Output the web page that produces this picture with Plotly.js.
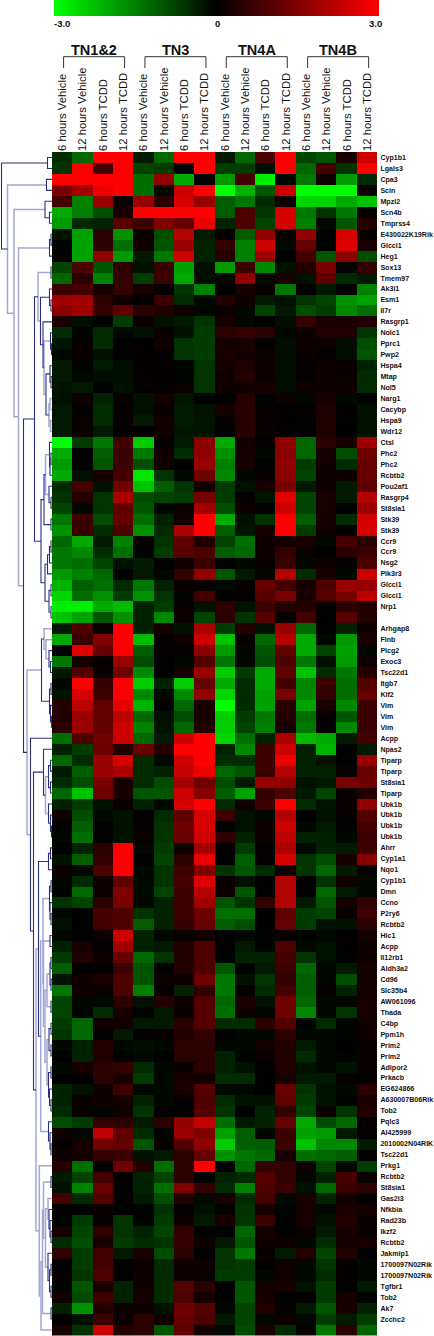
<!DOCTYPE html>
<html>
<head>
<meta charset="utf-8">
<script src="https://cdn.plot.ly/plotly-3.0.1.min.js"></script>
<style>html,body{margin:0;padding:0;background:#fff}</style>
</head>
<body>
<div id="chart" style="width:434px;height:1336px"></div>
<script>
const columnLabels = ["6 hours Vehicle","12 hours Vehicle","6 hours TCDD","12 hours TCDD","6 hours Vehicle","12 hours Vehicle","6 hours TCDD","12 hours TCDD","6 hours Vehicle","12 hours Vehicle","6 hours TCDD","12 hours TCDD","6 hours Vehicle","12 hours Vehicle","6 hours TCDD","12 hours TCDD"];
const groupNames = ["TN1&2","TN3","TN4A","TN4B"];
const groupFirstColumn = [0,4,8,12];
const groupLastColumn = [3,7,11,15];
const colourTicks = ["-3.0","0","3.0"];
const rowLabels = ["Cyp1b1","Lgals3","Cpa3","Scin","Mpzl2","Scn4b","Tmprss4","E430022K19Rik","Glcci1","Heg1","Sox13","Tmem97","Ak3l1","Esm1","Il7r","Rasgrp1","Nolc1","Pprc1","Pwp2","Hspa4","Mtap","Nol5","Narg1","Cacybp","Hspa9","Wdr12","Ctsl","Phc2","Phc2","Rcbtb2","Pou2af1","Rasgrp4","St8sia1","Stk39","Stk39","Ccr9","Ccr9","Nsg2","Pik3r3","Glcci1","Glcci1","Nrp1","","Arhgap8","Flnb","Plcg2","Exoc3","Tsc22d1","Itgb7","Klf2","Vim","Vim","Vim","Acpp","Npas2","Tiparp","Tiparp","St8sia1","Tiparp","Ubk1b","Ubk1b","Ubk1b","Ubk1b","Ahrr","Cyp1a1","Nqo1","Cyp1b1","Dmn","Ccno","P2ry6","Rcbtb2","Hic1","Acpp","Il12rb1","Aldh3a2","Cd96","Slc35b4","AW061096","Thada","C4bp","Ppm1h","Prim2","Prim2","Adipor2","Prkacb","EG624866","A630007B06Rik","Tob2","Pqlc3","AI425999","2010002N04RIK","Tsc22d1","Prkg1","Rcbtb2","St8sia1","Gas2l3","Nfkbia","Rad23b","Ikzf2","Rcbtb2","Jakmip1","1700097N02Rik","1700097N02Rik","Tgfbr1","Tob2","Ak7","Zcchc2",""];
const expression = [
[-0.5,-1.2,3,3,-0.3,-1.2,3,3,-0.3,-1.2,0.9,3,-0.8,-1.0,0.3,2.4],
[-0.6,3,0.8,3,-0.8,-0.7,0,3,-0.7,-0.7,-0.2,3,-1.2,0.8,-0.6,3],
[3,3,3,3,-1.3,1.7,-2.0,0,-1.8,0.8,-2.8,-0.1,-1.4,0.2,-1.8,-0.5],
[1.4,1.9,2.8,3,-1.3,-0.1,2.4,3,-3,-2.1,-1.0,2.4,-3,-3,-3,0.1],
[0.8,-1.5,1.8,0.1,1.8,0.5,2.5,1.8,-1.1,-1.4,-0.5,0.2,-2.5,-2.5,-2.0,-2.3],
[-2.0,-1.5,-0.9,0.3,3,3,3,3,-1.1,0.9,-0.6,2.5,-1.4,-0.6,-1.4,0.1],
[-1.8,-0.5,-0.4,1,0.7,1.5,1.2,2.8,-0.4,0.9,-0.8,2.5,-1.5,-0.1,-1.0,0.4],
[-0.2,-1.9,0.5,-1.7,0.1,-0.9,2.1,-0.3,0.05,-1.1,1.7,0.05,1.7,0,2.5,0.1],
[-0.05,-1.9,0.5,-1.3,0.2,-1.0,1.8,-0.4,0.6,-1.5,2.4,-0.1,1.2,0,2.6,0.3],
[0.05,-1.9,1.7,-1.8,-0.3,-1.4,2.4,-0.4,0.4,-1.5,1.8,0,0.8,-1.0,1.6,-0.9],
[-0.8,0.9,-1.0,0.5,-0.2,0.7,-1.9,-0.2,-1.8,0.7,-1.6,-0.2,0.4,1.4,0,0.6],
[-1.2,0.5,-1.5,0.6,-0.7,0.7,-2.0,-0.15,-0.1,1.7,-0.1,0.3,-0.2,1.1,-0.5,-0.3],
[0.7,0.8,0.3,0.6,0.25,0.05,-0.6,-1.5,0,0.3,0.1,-1.4,0,-0.3,0,-1.5],
[1.9,1.9,0.5,0.15,0.05,0.7,-0.5,-0.1,0.4,0.2,-0.3,-0.2,-0.6,-0.8,-1.7,-1.9],
[1.6,1.9,0.6,1.1,0.5,0.4,0.2,-0.1,0.1,-0.1,-0.8,-0.3,-0.9,-0.7,-1.6,-1.3],
[0.3,-0.15,-0.05,-0.7,0.15,-0.2,-0.3,-0.6,0.3,-0.1,0,-0.15,0.6,0.3,0.3,0.35],
[-0.5,-0.05,-0.5,-0.1,-0.2,0.1,-0.2,-0.7,0.5,0.6,0.5,-0.1,0.15,0.35,0.35,-0.6],
[-0.25,0.1,-0.5,0.05,0,0.2,-0.6,-0.7,0.25,0.3,0.05,-0.15,0.15,0.15,-0.15,-0.9],
[-0.1,0.1,-0.2,0,0.05,0.05,-0.6,-0.7,0.3,0.2,0.1,-0.15,0.1,0,-0.15,-1.0],
[-0.3,-0.05,-0.3,-0.15,0.05,0.05,-0.05,-0.6,0.25,0.35,0.15,-0.15,0.05,0.15,0.1,-0.4],
[-0.3,-0.1,-0.15,-0.15,0.05,0.05,-0.05,-0.6,0.15,0.4,0.15,-0.15,0.05,0.15,0.1,-0.5],
[-0.2,-0.3,-0.05,-0.2,0.05,0.05,0.1,-0.6,0.2,0.2,0.3,-0.15,0.15,0.15,0.2,-0.5],
[-0.2,0.15,-0.4,0.1,-0.2,0.25,-0.25,0.03,0,0.45,-0.05,0.15,-0.1,0.3,-0.1,0],
[-0.3,0.03,-0.5,0.05,-0.2,0.1,-0.3,-0.2,0.25,0.45,0.1,0,0.05,0.35,0.05,-0.2],
[-0.3,0.1,-0.5,0.1,-0.3,0.2,-0.3,-0.25,0.1,0.45,0.1,0,-0.05,0.35,-0.05,-0.2],
[-0.3,0.1,-0.3,0,0,0.2,-0.25,-0.25,0,0.45,0.1,0.05,0,0.35,0,-0.2],
[-3,-0.7,-1.4,0.8,-2.4,0.05,-0.3,1.6,-2.0,0.2,0.05,1.7,-1.2,0.5,0.3,1.9],
[-2,0,-1.1,0.7,-1.4,0.2,-0.5,1.7,-1.7,0.25,-0.1,1.6,-1.2,0.25,-0.9,1.3],
[-1.8,0,-1,0.7,-0.9,0.2,0,1.8,-1.5,0.25,0,1.7,-0.7,0.2,-0.5,1.2],
[-2,-0.2,0.3,0.8,-2.7,-0.6,-0.1,1.3,-1.6,-0.1,0.1,1.6,-0.8,0.15,0.15,1.2],
[-0.5,0.8,-0.2,1.3,-2.3,-1.1,-0.6,0.2,-0.7,-0.2,0.3,1.4,-0.3,0.15,-0.3,1.1],
[-0.6,0.4,-0.6,2,-0.9,-0.8,-0.7,1.4,-0.7,0,-0.25,2.6,-0.8,0.3,-0.3,2.1],
[-0.8,-0.1,-0.6,1.1,-1,-0.1,0.15,1.9,-0.9,0.15,0.05,2.4,-0.8,0.25,0,1.8],
[-1.4,0.7,-0.9,1.2,-1.3,-0.4,0.2,3,-2,-0.2,-0.6,3,-1.1,0.25,-0.5,2.5],
[-1.7,0.7,-0.5,0.9,-1.7,-0.5,2,3,-1.1,-0.25,0.3,3,-0.7,0.2,0,2.5],
[-1.2,-2,-0.3,-1.5,0.1,-0.6,1.1,0.4,-0.8,-1.3,0.2,0.25,0.3,-0.1,0.8,0.5],
[-1.4,-1.6,-0.5,-1.3,-0.05,-0.7,1,0.9,-1.1,-1.2,0.15,0.6,0.1,0,0.5,0.7],
[-1.4,-1.3,-0.8,-0.2,-0.3,0,0.2,0.7,0,-0.1,0.1,0.7,-0.1,0.2,0.05,0.9],
[-1.8,-1.5,-1.2,0,-0.3,-0.1,0.6,1.7,-1,-0.3,-0.1,2.1,-0.5,0.3,-0.1,2.4],
[-2.1,-1.1,-1.3,-0.5,-1.4,-0.4,0.1,0.1,-0.1,0.1,1.2,0.8,0.3,0.9,1.8,1.8],
[-2.5,-1.3,-1.7,-0.7,-1.7,-0.6,-0.05,0.8,0,0.05,1,1.4,0.3,1,1.4,2.2],
[-2.8,-2.8,-2,-2.2,-0.4,-0.7,0.1,-0.2,0.5,-0.2,0.7,0.4,0.4,0.05,0.5,0.4],
[-2.3,-1.9,-1,-1.7,-0.4,-1.6,0.15,-0.8,0.5,-0.6,1,0.1,0.8,0,1,0.4],
[-0.3,0.9,0.05,3,-0.4,0.3,-0.2,2,-0.7,0.4,-0.2,1.8,-1.2,0,-0.4,0.2],
[-2,0.7,1.5,3,-2.2,0.05,0.15,2.4,-2.3,0.1,-1.2,2.1,-2,-0.1,-1.8,0.3],
[0,2.6,1.2,3,-1.1,0,0.05,1.6,-1.8,-0.1,-1,1.1,-2,-0.8,-1.9,-0.1],
[-1.4,0.25,0.1,1.8,-0.9,0,-0.1,1,-1.4,-0.1,-0.9,0.9,-1.4,-0.2,-1.8,0.15],
[-0.3,1,0.1,1.3,-1.6,0,0.3,1.8,-2.4,-0.7,-2,1.1,-2.3,-0.5,-1.4,0.4],
[-0.1,3,0.6,3,-2.4,-0.4,-2.4,1.2,-2,-0.5,-2,0.8,-1.6,0.7,-1.3,1],
[-0.2,2.5,0.7,3,-1.6,-0.1,-1.6,1.7,-2.5,-0.5,-1.9,1.4,-1.6,0.6,-1.3,1.2],
[0.4,2.2,1.1,2.7,-2.1,0,-1.2,0.3,-3,-0.5,-1.9,0.5,-1.9,0.3,-1.6,0.7],
[0.4,1.8,1.1,2.2,-1.2,-0.2,-0.9,0.3,-2.4,-0.7,-1.4,0.4,-1.3,0.05,-1,0.7],
[0.5,1.8,1.1,2.4,-1.5,-0.2,-1.2,0.4,-2.4,-0.8,-1.5,0.3,-1.4,0.05,-1.6,0.7],
[-1.3,0.9,1.3,2.4,-1.2,-0.3,2.4,3,-2.5,-1.3,-0.4,2,-2.2,-2,-0.3,0.8],
[-0.4,-0.7,1.3,0.4,1.2,0.4,3,3,-0.4,-1.6,0.7,2.4,-0.4,-2.1,0,-0.3],
[-1.2,-0.5,1.8,2.5,-0.5,-0.1,2.4,3,-0.5,-0.5,0.7,2.8,-0.4,-0.2,0,1.8],
[-0.3,-1.1,1.8,2,-0.5,-0.4,2.3,2.8,-1.2,-1,0.7,2.1,-0.4,-0.4,0.1,1.2],
[-0.5,-0.9,1.4,0.3,-0.5,-0.9,1.9,1.3,-0.9,-0.3,1.8,1.7,-0.2,-0.3,1.4,1.3],
[-1.2,-2.3,1.3,0.3,-1,-1,2.4,1.6,-1.1,-1.9,0.6,0.9,-0.3,-0.8,0.1,0.4],
[-0.4,-0.7,-0.2,0.1,-0.4,-0.1,2.5,3,-0.5,0.2,0.7,3,-0.5,-0.2,0.1,1.7],
[0.2,-0.9,-0.1,-0.2,0,-0.5,1.1,2.5,0.7,-0.2,-0.1,2.1,0,-0.2,0.05,1],
[0,-1.1,0,-0.2,0.1,-0.6,1.3,2.5,-0.05,-0.2,0.2,2.4,-0.1,-0.3,0,0.8],
[-0.1,-1.3,0,-0.2,0.1,-0.6,1.2,2.4,0.5,-0.4,0.15,2.2,-0.4,-0.4,-0.1,0.7],
[0,-0.4,0.5,3,-0.1,-0.7,0.15,1.9,0,-0.7,0,2,-0.1,-0.4,-0.3,0.7],
[-0.2,-1.1,0.6,3,0,-0.8,0.5,2.7,0,-1.1,0.05,2.5,-0.6,-0.9,0.3,1.6],
[0.15,-0.1,0.9,3,-0.1,-0.6,0.7,1.5,-0.6,-1,-0.5,0.15,-0.6,-1.2,-0.3,-0.05],
[-0.1,-0.5,0.2,1.1,-0.1,-0.6,0.8,2.6,0.1,-0.2,0,2.1,0,-0.6,0.2,-0.1],
[-0.05,-1.2,0.15,1.5,-0.1,-0.8,0.7,2.1,0.2,-1,0,2.1,-0.05,-1.2,-0.3,-0.1],
[-0.6,-0.8,0.5,1.4,-0.1,-0.4,0.7,1.9,-1,-0.6,0.6,2.1,-0.3,-1,0.25,0.6],
[-0.1,0,0.8,0.9,-0.6,-0.4,0.7,1.3,-1.3,-1.3,0,1.1,-0.7,-0.8,0.1,0.7],
[-0.2,0,0.8,0.9,-1.1,-0.4,0.6,1.2,-1.1,-0.9,0,1.2,-0.7,-0.2,-0.2,0.5],
[-0.1,0,0.15,2.4,-0.4,-0.1,0.1,0.2,0,-0.1,-0.05,0.1,-0.05,-0.1,0,0.25],
[-0.4,0.25,0,1.9,-0.4,-0.3,0.35,0.9,0,-0.3,-0.05,0.9,-0.1,-0.2,0,0.15],
[-0.7,0.35,0.15,1.2,-1.2,-0.6,0.4,0.9,-0.05,-0.4,-0.4,0.8,-0.6,-0.2,-0.05,0.15],
[-1.1,0,0,0.7,-1,0,0.4,0.9,-1,-0.05,-0.3,0.7,-1.2,-0.1,-0.3,0.25],
[-0.2,0.2,0.3,0.9,-1,0.15,0.2,1.3,-1.4,-0.2,-0.6,0.6,-1.1,-0.1,-0.9,0.25],
[-1.4,0.2,0.1,0.9,-1.5,0.05,-0.4,0.6,-1.4,0.05,-0.5,0.8,-1.1,0.1,-0.4,0.25],
[-0.8,-0.1,-0.1,0.5,-0.2,0.4,0.2,1,-1.2,0.3,-0.2,1.3,-1.2,-0.1,-0.1,0.3],
[-0.8,-0.05,-0.5,0.3,-0.05,-0.3,0.1,1,-1.3,0.2,-0.05,1.3,-1.6,-0.1,-0.6,0.3],
[-0.7,-1.2,0.2,0.2,-0.3,-0.3,0.5,1,-0.5,-0.5,0.5,1,-0.05,-0.5,-0.05,0.2],
[-0.6,-1.2,0,-0.3,0.03,0.1,0.4,0.6,0,-0.1,-0.1,0.5,-0.1,-0.1,-0.05,0.2],
[-0.1,-0.4,0.4,-0.1,-0.15,-0.1,0.5,0.5,-0.1,-0.1,0.25,0.4,-0.3,-0.1,0,0.1],
[0,-0.4,0.4,0,-0.1,0,0.5,0.5,-0.4,-0.05,0.1,0.4,-0.5,-0.1,-0.05,0.1],
[-0.1,0.3,0.5,0.6,-0.5,-0.1,0.1,0.5,-0.4,-0.2,0,0.4,-0.2,-0.1,-0.2,0.1],
[0,0,0.5,0.3,-0.7,-0.1,0.3,0.2,-0.5,-0.5,0,0.3,-0.3,-0.3,0.1,0.05],
[-0.4,-0.2,0.2,0.7,-0.1,-0.1,0.3,1,-0.1,-0.1,0,1.2,-0.6,-0.2,-0.1,0.5],
[-0.4,0.1,0.2,0.25,-0.4,-0.1,0.05,0.9,-0.5,-0.2,-0.2,1.1,-0.7,-0.2,-0.05,0.3],
[-0.5,0.1,-0.05,0.2,-0.6,0.05,0,1,-0.6,-0.05,-0.4,0.6,-0.8,0.1,-0.6,0.4],
[-0.9,-0.7,0.6,0.5,-0.3,0.5,1.7,2.3,-1.3,-0.3,-0.4,1.2,-2,-0.9,-1.2,0.05],
[0.2,-0.1,2.2,1.1,-0.5,-0.05,1.8,1.5,-1.9,-1.1,-0.1,0.7,-1.9,-1.8,-0.3,0.05],
[0.05,0.25,1.3,1.2,-1,0.1,1,1.7,-2.4,-1.1,-1.1,0.7,-2.3,-1.6,-1.6,-0.3],
[0.15,0.25,0.6,0.7,-0.2,-0.3,0.5,1.2,-1.7,-1.4,-1.2,0.3,-1.3,-1.2,-1.1,0],
[0.4,-1.3,0.05,1.3,0.4,-1.3,0.5,3,0,-1.2,0.6,0.6,0.15,-0.8,-0.1,-0.7],
[-0.3,-0.8,0.8,0,-0.4,-0.8,0.5,0,-0.4,-0.5,1,0.6,-0.1,-0.4,0.8,0.1],
[-0.2,-1.5,1.2,0,-0.4,-1.3,1.5,0.6,-0.5,-1.5,0.9,0.7,-0.2,-1.2,0.7,0.5],
[0.8,-0.5,1,0.05,-0.3,-0.9,0.4,-0.1,0.3,-0.5,0.8,-0.1,0.3,-0.4,0.2,0],
[0,-0.05,0.1,0,-0.05,-0.6,0.05,-0.2,0.03,-0.6,0.3,-0.05,0.3,-0.1,0.3,0.25],
[-0.05,-0.7,0.05,-0.6,-0.05,-0.7,0.2,-0.3,0.3,-0.6,0.7,0,0.3,-0.2,0.4,0.1],
[0.25,-0.8,0.5,-0.6,-0.4,-0.8,0.6,-0.05,-0.05,-1.2,0.25,-0.05,0.15,-0.3,0.3,0.1],
[-0.5,-0.9,0.3,-0.7,-0.5,-0.6,0.6,0.2,-0.3,-1,0.2,0.2,-0.1,-0.5,0.25,0.3],
[0.5,-0.7,0.8,-0.3,0.3,-0.9,0.5,0,-0.6,-1.4,0.1,-0.3,0.4,-0.8,0.35,0],
[0,-0.7,0.8,0,0.1,-0.5,0.2,0.15,-0.6,-0.7,0.05,0.2,-0.1,-0.6,0.05,-0.1],
[0.1,-0.6,0.9,0,0.2,-0.5,0.2,0.1,-0.7,-0.7,-0.1,0.2,-0.1,-0.5,0.05,-0.1],
[-0.05,-1,0.3,-0.4,0.2,-0.5,1,0.5,0,-1,0.25,0.3,-0.2,-0.7,0,-0.3],
[0.2,-0.9,0.7,-0.4,0.25,-0.5,0.9,0.25,0,-1,0.25,-0.05,0.05,-0.7,0.25,-0.05],
[-0.4,-1.7,0.4,0.15,0.2,-0.2,1.3,1,-0.1,-0.8,0.4,0.1,-0.3,-1,0.3,-0.4],
[0.05,-0.2,0.7,0.15,0.5,0.2,1.2,0.9,-0.3,-0.8,-0.1,0.15,-0.1,-0.7,-0.3,-0.7],
[0.3,-0.6,2.4,0.4,0.5,-1,1.1,0.2,-0.1,-0.9,0.3,-0.5,0.05,-1.4,0.5,-1.2]
];
// Gene tree: [merge distance, tone (0 dark, 1 light), child, child]; a number child is a row (1-based)
const geneTree = [1.5,0,
 [47.5,0,1,2],
 [7.5,1,
  [46.5,0,3,4],
  [14,1,
   [45,0,5,[49.5,0,6,7]],
   [18.5,1,
    [49.5,0,[51,0,8,9],10],
    [23.5,0,
     [34.5,0,
      [38,1,
       [51,0,11,12],
       [40.5,0,
        [49.5,0,13,[51,0,14,15]],
        [43,0,16,
         [44,1,
          [50.5,0,17,[51.5,0,18,19]],
          [46,0,
           [50,0,20,[51,0,21,22]],
           [49,1,[50,1,23,24],[50.5,1,25,26]]]]]]],
      [41,0,
       [44,0,
        [45.5,1,
         [49.5,0,27,[50,0,[51,0,28,29],30]],
         [49,0,31,[51,0,32,33]]],
        [51,0,34,35]],
       [45,0,
        [47.5,0,[49.5,0,[51,0,36,37],38],39],
        [49,0,[51,0,40,41],[51,0,42,43]]]]],
     [27,1,
      [41.5,0,
       [44,1,44,[46,1,45,[49,0,46,[50.5,0,47,48]]]],
       [49.5,0,[51,0,49,50],[50.5,0,51,[51.5,0,52,53]]]],
      [30.5,0,54,
       [33.5,0,
        [43.5,0,55,
         [45.5,1,
          [48.5,0,[50.5,0,56,57],[50.5,0,58,59]],
          [48.5,0,60,[50.5,0,61,[51.5,0,62,63]]]]],
        [36,1,
         [38.5,0,
          [48.5,0,[50.5,0,64,65],66],
          [40.7,1,
           [43,1,
            [49.5,0,[51,0,67,68],[50,0,69,[51,0,70,71]]],
            [43.5,1,
             [50,0,72,73],
             [45,1,
              [47,1,[50,0,[51,0,74,75],[51,0,76,77]],[51,0,78,79]],
              [47,1,
               [49,0,[51,0,80,81],[51,0,82,83]],
               [48.5,0,[51,0,84,85],[49.5,0,86,[51,0,87,88]]]]]]],
           [48.5,0,89,[50,0,90,[51,0,91,92]]]]],
         [39.3,1,93,
          [41,1,
           [42.5,1,
            [43.5,1,
             [51,0,94,95],
             [45.5,1,
              [48,1,96,[49,0,97,[50,0,98,[51,0,99,100]]]],
              [48,0,101,[49.5,0,[51,0,102,103],[51,0,104,105]]]]],
            [51,0,106,107]],
           108]]]]]]]]]]];

const W = 434, H = 1336;
const leafEdge = 52;
const panelLeft = 52, panelRight = 377.4, panelTop = 152, panelBottom = 1335.5;
const barLeft = 54, barRight = 378.7, barHeight = 16;
const paperY = px => 1 - px / H;

// Walk the tree into one line trace per tone
const segs = [{x:[],y:[]},{x:[],y:[]}];
function walk(n){
  if (typeof n === 'number') return {d:leafEdge, r:n-1};
  const a = walk(n[2]), b = walk(n[3]), s = segs[n[1]];
  s.x.push(a.d,n[0],n[0],b.d,null);
  s.y.push(a.r,a.r,b.r,b.r,null);
  return {d:n[0], r:(a.r+b.r)/2};
}
walk(geneTree);

const columns = columnLabels.map((_,i)=>i);
const rows = rowLabels.map((_,i)=>i);
const traces = [
 {type:'heatmap', z:expression, x:columns, y:rows, xaxis:'x', yaxis:'y',
  zmin:-3, zmax:3, zsmooth:false, xgap:0, ygap:0,
  colorscale:[[0,'#00ff00'],[0.5,'#000000'],[1,'#ff0000']],
  colorbar:{orientation:'h', lenmode:'pixels', len:barRight-barLeft, thicknessmode:'pixels', thickness:barHeight,
    x:barLeft/W, xanchor:'left', xpad:0, y:1, yanchor:'top', yref:'container', ypad:0,
    outlinewidth:0, ticks:'', showticklabels:false}},
 {type:'scatter', mode:'lines', x:segs[1].x, y:segs[1].y, xaxis:'x2', yaxis:'y', hoverinfo:'skip', showlegend:false,
  line:{color:'#a2a7d2', width:1.5, shape:'linear'}},
 {type:'scatter', mode:'lines', x:segs[0].x, y:segs[0].y, xaxis:'x2', yaxis:'y', hoverinfo:'skip', showlegend:false,
  line:{color:'#2a2f80', width:1.1, shape:'linear'}}
];

const annotations = [];
const shapes = [];
const ink = '#222222';
const barTickCenters = [62, 217, 375];
colourTicks.forEach((t,i)=>annotations.push({text:t, xref:'paper', yref:'paper', x:barTickCenters[i]/W, y:paperY(23),
  xanchor:'center', yanchor:'middle', showarrow:false, font:{family:'Liberation Sans', size:9.5, weight:700, color:'#111'}}));
groupNames.forEach((g,i)=>{
  const a = groupFirstColumn[i]+0.07, b = groupLastColumn[i]+0.07;
  annotations.push({text:g, xref:'x', yref:'paper', x:(a+b)/2, y:paperY(50), xanchor:'center', yanchor:'middle',
    showarrow:false, font:{family:'Liberation Sans', size:14.5, weight:700, color:'#111'}});
  const line = (x0,y0,x1,y1)=>shapes.push({type:'line', xref:'x', yref:'paper', x0, x1, y0:paperY(y0), y1:paperY(y1), line:{color:'#333', width:1}});
  line(a,56.7,b,56.7); line(a,56.7,a,68); line(b,56.7,b,68);
});

const layout = {
  width:W, height:H, margin:{l:0,r:0,t:0,b:0,autoexpand:false}, paper_bgcolor:'#fff', plot_bgcolor:'#fff', showlegend:false,
  font:{family:'Liberation Sans', color:ink},
  xaxis:{domain:[panelLeft/W,panelRight/W], range:[-0.5,15.5], side:'top', anchor:'y', tickmode:'array', tickvals:columns, ticktext:columnLabels,
    tickangle:-90, ticklen:0, ticks:'', showgrid:false, zeroline:false, showline:false, automargin:false,
    tickfont:{family:'Liberation Sans', size:11.3, color:'#111'}},
  yaxis:{domain:[paperY(panelBottom),paperY(panelTop)], range:[107.5,-0.5], side:'right', anchor:'x', tickmode:'array', tickvals:rows, ticktext:rowLabels,
    ticks:'', ticklen:0, ticklabelstandoff:2, showgrid:false, zeroline:false, showline:false, automargin:false,
    tickfont:{family:'Liberation Sans', size:7.1, weight:700, color:'#111'}},
  xaxis2:{domain:[0,panelLeft/W], range:[0,leafEdge], anchor:'y', visible:false, fixedrange:true},
  annotations, shapes
};
Plotly.newPlot('chart', traces, layout, {displayModeBar:false, responsive:false});
</script>
</body>
</html>
